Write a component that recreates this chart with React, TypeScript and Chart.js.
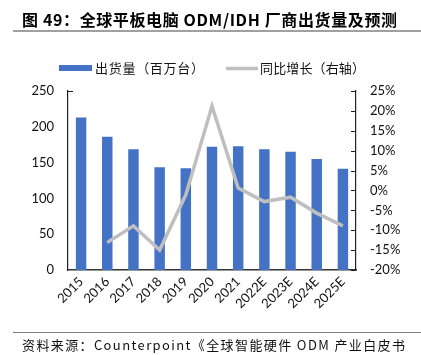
import React, { useEffect, useRef } from "react";
import { Chart, registerables } from "chart.js";

Chart.register(...registerables);

const categories = ["2015", "2016", "2017", "2018", "2019", "2020", "2021", "2022E", "2023E", "2024E", "2025E"];
const shipments = [213, 186, 168.5, 143.5, 142, 172, 173, 168.5, 165, 155, 141.5];
const yoyGrowth = [null, -13.1, -8.9, -15.0, -1.1, 21.2, 0.6, -2.8, -1.7, -5.7, -8.9];
const leftTicks = { min: 0, max: 250, step: 50 };
const rightTicks = { min: -20, max: 25, step: 5 };

const titleText = "图 49：全球平板电脑 ODM/IDH 厂商出货量及预测";
const legendBar = "出货量（百万台）";
const legendLine = "同比增长（右轴）";
const sourceText = "资料来源：Counterpoint《全球智能硬件 ODM 产业白皮书";

const CJK = "'Noto Sans CJK SC', sans-serif";
const NUM = "Lato, 'Open Sans', sans-serif";

function fitText(ctx: any, text: string, x: number, y: number, width: number) {
  ctx.letterSpacing = "0px";
  const w = ctx.measureText(text).width;
  const n = Array.from(text).length;
  const sp = (width - w) / Math.max(1, n - 1);
  ctx.letterSpacing = `${sp}px`;
  ctx.fillText(text, x, y);
  ctx.letterSpacing = "0px";
}

const decorPlugin = {
  id: "decor",
  afterDraw(chart: any) {
    const ctx = chart.ctx;
    ctx.save();
    // title
    ctx.fillStyle = "#000";
    ctx.font = `bold 16px ${CJK}`;
    ctx.textBaseline = "middle";
    ctx.textAlign = "left";
    fitText(ctx, titleText, 22, 20, 375);
    // title underline
    ctx.strokeStyle = "#808080";
    ctx.lineWidth = 1.5;
    ctx.beginPath();
    ctx.moveTo(13, 31);
    ctx.lineTo(421, 31);
    ctx.stroke();
    // legend
    ctx.fillStyle = "#4472C4";
    ctx.fillRect(59, 65, 33, 6);
    ctx.fillStyle = "#111";
    ctx.font = `13px ${CJK}`;
    fitText(ctx, legendBar, 95, 68, 109);
    ctx.strokeStyle = "#BFBFBF";
    ctx.lineWidth = 3.5;
    ctx.beginPath();
    ctx.moveTo(226, 68.5);
    ctx.lineTo(258, 68.5);
    ctx.stroke();
    ctx.fillStyle = "#111";
    fitText(ctx, legendLine, 260, 68, 105);
    // source separator
    ctx.strokeStyle = "#808080";
    ctx.lineWidth = 1.2;
    ctx.beginPath();
    ctx.moveTo(13, 332.5);
    ctx.lineTo(421, 332.5);
    ctx.stroke();
    ctx.fillStyle = "#111";
    ctx.font = `13px ${CJK}`;
    fitText(ctx, sourceText, 22, 345, 383);
    // inside ticks on right axis
    const y1 = chart.scales.y1;
    const ys = chart.scales.y;
    ctx.strokeStyle = "#222";
    ctx.lineWidth = 1;
    y1.ticks.forEach((t: any) => {
      const py = Math.round(y1.getPixelForValue(t.value)) + 0.5;
      ctx.beginPath();
      ctx.moveTo(y1.left - 5, py);
      ctx.lineTo(y1.left, py);
      ctx.stroke();
    });
    const top = Math.round(ys.getPixelForValue(leftTicks.max)) + 0.5;
    ctx.beginPath();
    ctx.moveTo(ys.right, top);
    ctx.lineTo(ys.right + 5, top);
    ctx.stroke();
    ctx.restore();
  },
};

export default function App() {
  const ref = useRef<HTMLCanvasElement | null>(null);
  useEffect(() => {
    if (!ref.current) return;
    const chart = new Chart(ref.current, {
      type: "bar",
      data: {
        labels: categories,
        datasets: [
          {
            type: "line",
            label: legendLine,
            data: yoyGrowth,
            yAxisID: "y1",
            borderColor: "#BFBFBF",
            borderWidth: 3.5,
            pointRadius: 0,
            tension: 0,
            order: 0,
          } as any,
          {
            type: "bar",
            label: legendBar,
            data: shipments,
            yAxisID: "y",
            backgroundColor: "#4472C4",
            barPercentage: 0.4,
            categoryPercentage: 1,
            order: 1,
          },
        ],
      },
      options: {
        animation: false,
        responsive: false,
        devicePixelRatio: 1,
        layout: { padding: { top: 91, left: 0, right: 0, bottom: 0 } },
        plugins: { legend: { display: false }, tooltip: { enabled: false }, title: { display: false } },
        scales: {
          x: {
            offset: true,
            grid: { display: false, drawTicks: false },
            border: { display: true, color: "#333", width: 1.5 },
            ticks: { font: { family: NUM, size: 13 }, color: "#111", minRotation: 45, maxRotation: 45, padding: 4, autoSkip: false },
            afterFit: (s: any) => { s.height = 85; },
          },
          y: {
            position: "left",
            min: leftTicks.min,
            max: leftTicks.max,
            ticks: { stepSize: leftTicks.step, font: { family: NUM, size: 13 }, color: "#111", padding: 14 },
            grid: { display: false, drawTicks: false },
            border: { display: true, color: "#222", width: 1.2 },
            afterFit: (s: any) => { s.width = 68; },
          },
          y1: {
            position: "right",
            min: rightTicks.min,
            max: rightTicks.max,
            ticks: { stepSize: rightTicks.step, font: { family: NUM, size: 13 }, color: "#111", padding: 14, callback: (v: any) => v + "%" },
            grid: { display: false, drawTicks: false },
            border: { display: true, color: "#222", width: 1.2 },
            afterFit: (s: any) => { s.width = 65; },
          },
        },
      },
      plugins: [decorPlugin],
    });
    return () => chart.destroy();
  }, []);
  return (
    <div style={{ position: "absolute", left: 0, top: 0, width: 421, height: 355, background: "#fff" }}>
      <canvas ref={ref} width={421} height={355} style={{ width: 421, height: 355 }} />
    </div>
  );
}
